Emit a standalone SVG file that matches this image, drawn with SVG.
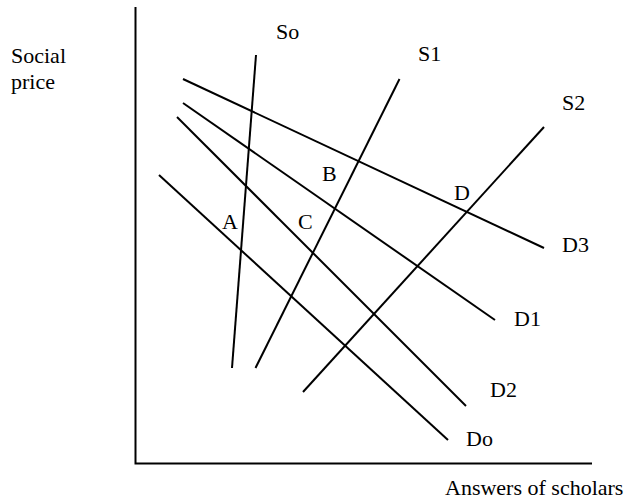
<svg xmlns="http://www.w3.org/2000/svg" width="644" height="500" viewBox="0 0 644 500">
<style>
.ax{stroke:#000;stroke-width:2;fill:none}
.ln{stroke:#000;stroke-width:2;fill:none;stroke-linecap:butt}
text{font-family:"Liberation Serif","Times New Roman",serif;font-size:22px;fill:#000}
</style>
<rect width="644" height="500" fill="#fff"/>
<g id="axes">
<path class="ax" d="M135.5,7 V463.5 H592"/>
</g>
<g id="labels">
<text x="11" y="63">Social</text>
<text x="11" y="89">price</text>
<text x="445" y="495">Answers of scholars</text>
</g>
<g id="connectors">
<line id="So" class="ln" x1="256" y1="55" x2="232" y2="368"/>
<line id="S1" class="ln" x1="399.5" y1="79" x2="255.5" y2="368"/>
<line id="S2" class="ln" x1="544" y1="127" x2="303" y2="392"/>
<line id="D3" class="ln" x1="183" y1="79" x2="544" y2="248"/>
<line id="D1" class="ln" x1="183" y1="103" x2="495" y2="320"/>
<line id="D2" class="ln" x1="177" y1="117" x2="466" y2="406"/>
<line id="Do" class="ln" x1="159" y1="175" x2="448" y2="440"/>
</g>
<g id="node-So"><text x="276" y="39">So</text></g>
<g id="node-S1"><text x="418" y="61">S1</text></g>
<g id="node-S2"><text x="562" y="110">S2</text></g>
<g id="node-A"><text x="222" y="229">A</text></g>
<g id="node-B"><text x="322" y="181">B</text></g>
<g id="node-C"><text x="298" y="229">C</text></g>
<g id="node-D"><text x="454" y="200">D</text></g>
<g id="node-D3"><text x="562" y="252">D3</text></g>
<g id="node-D1"><text x="514" y="326">D1</text></g>
<g id="node-D2"><text x="490" y="397">D2</text></g>
<g id="node-Do"><text x="466" y="446">Do</text></g>
</svg>
